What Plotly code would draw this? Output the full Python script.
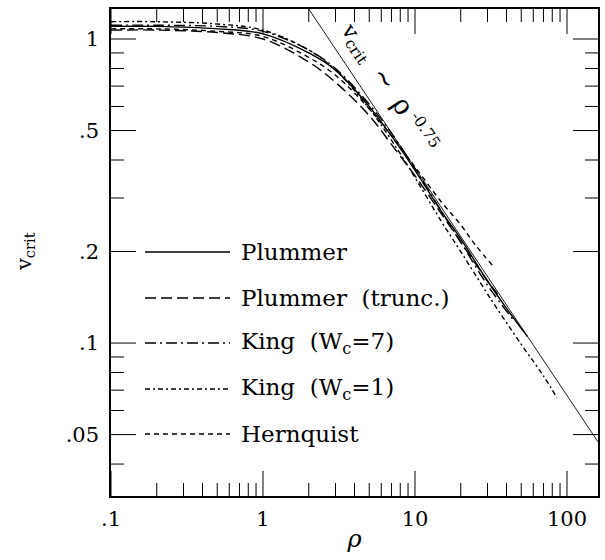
import math
import plotly.graph_objects as go

# ---------------- data ----------------
rho_plummer = [0.1, 0.2, 0.5, 1, 2, 3, 5, 7, 10, 15, 20, 30, 40, 55]
v_plummer = [1.10, 1.10, 1.08, 1.04, 0.90, 0.79, 0.60, 0.48, 0.37, 0.27, 0.22, 0.16, 0.13, 0.105]

rho_trunc = [0.1, 0.2, 0.5, 1, 2, 3, 5, 7, 10, 15, 20, 30, 35]
v_trunc = [1.07, 1.07, 1.05, 1.00, 0.84, 0.72, 0.56, 0.45, 0.355, 0.265, 0.215, 0.16, 0.145]

rho_king7 = [0.1, 0.2, 0.5, 1, 2, 3, 5, 7, 10, 15, 20, 30, 45]
v_king7 = [1.11, 1.11, 1.10, 1.06, 0.92, 0.80, 0.61, 0.49, 0.375, 0.27, 0.215, 0.155, 0.118]

rho_king1 = [0.1, 0.2, 0.5, 1, 2, 3, 5, 7, 10, 15, 20, 30, 50, 70, 86]
v_king1 = [1.14, 1.14, 1.12, 1.07, 0.92, 0.79, 0.59, 0.465, 0.35, 0.25, 0.20, 0.145, 0.099, 0.078, 0.066]

rho_hern = [0.1, 0.2, 0.5, 1, 2, 3, 5, 7, 10, 15, 20, 25, 33]
v_hern = [1.08, 1.08, 1.06, 1.02, 0.87, 0.76, 0.59, 0.48, 0.38, 0.29, 0.245, 0.21, 0.178]

# power-law reference line v_crit ~ rho^-0.75 (end points)
rho_pl = [2.0, 160.0]
v_pl = [1.255, 0.0473]

series_names = ["Plummer", "Plummer  (trunc.)", "King  (W<sub>c</sub>=7)",
                "King  (W<sub>c</sub>=1)", "Hernquist"]

x_tickvals = [0.1, 1, 10, 100]
x_ticktext = [".1", "1", "10", "100"]
x_minor = [0.2, 0.3, 0.4, 0.5, 0.6, 0.7, 0.8, 0.9,
           2, 3, 4, 5, 6, 7, 8, 9, 20, 30, 40, 50, 60, 70, 80, 90]
y_tickvals = [0.05, 0.1, 0.2, 0.5, 1]
y_ticktext = [".05", ".1", ".2", ".5", "1"]
y_minor = [0.04, 0.06, 0.07, 0.08, 0.09, 0.3, 0.4, 0.6, 0.7, 0.8, 0.9]

# ---------------- styles ----------------
dashes = ["solid", "11px,5px", "11px,4px,2px,4px", "5px,3px,2px,3px", "5px,4px"]
FONT = "DejaVu Serif"
XR = [-1, 2.204]
YR = [-1.503, 0.0987]

fig = go.Figure()
all_rho = [rho_plummer, rho_trunc, rho_king7, rho_king1, rho_hern]
all_v = [v_plummer, v_trunc, v_king7, v_king1, v_hern]
for name, r, v, d in zip(series_names, all_rho, all_v, dashes):
    fig.add_trace(go.Scatter(x=r, y=v, mode="lines", name=name,
                             line=dict(color="black", width=1.4, dash=d, shape="spline"),
                             showlegend=False))

fig.add_trace(go.Scatter(x=rho_pl, y=v_pl, mode="lines", name="power law",
                         line=dict(color="black", width=0.9), showlegend=False))

# ---------------- geometry ----------------
L, R, T, B = 111, 598, 9, 496
W, H = R - L, B - T
MAJ, MIN = 25, 13


def xfrac(v):
    return (math.log10(v) - XR[0]) / (XR[1] - XR[0])


def yfrac(v):
    return (math.log10(v) - YR[0]) / (YR[1] - YR[0])


tick_line = dict(color="black", width=1)
# inside ticks on all four sides (mirrored), drawn from the tick value arrays
for vals, ln in ((x_tickvals, MAJ), (x_minor, MIN)):
    for v in vals:
        f = xfrac(v)
        if 0 <= f <= 1:
            fig.add_shape(type="line", xref="paper", yref="paper", x0=f, x1=f,
                          y0=0, y1=ln / H, line=tick_line, opacity=1)
            fig.add_shape(type="line", xref="paper", yref="paper", x0=f, x1=f,
                          y0=1, y1=1 - ln / H, line=tick_line, opacity=1)
for vals, ln in ((y_tickvals, MAJ), (y_minor, MIN)):
    for v in vals:
        f = yfrac(v)
        if 0 <= f <= 1:
            fig.add_shape(type="line", xref="paper", yref="paper", y0=f, y1=f,
                          x0=0, x1=ln / W, line=tick_line, opacity=1)
            fig.add_shape(type="line", xref="paper", yref="paper", y0=f, y1=f,
                          x0=1, x1=1 - ln / W, line=tick_line, opacity=1)

# ---------------- hand drawn legend ----------------
rows = [252, 298, 343, 389, 434]
for name, d, py in zip(series_names, dashes, rows):
    yp = (B - py) / H
    fig.add_shape(type="line", xref="paper", yref="paper", opacity=1,
                  x0=(145 - L) / W, x1=(230 - L) / W, y0=yp, y1=yp,
                  line=dict(color="black", width=1.4, dash=d))
    fig.add_annotation(xref="paper", yref="paper", x=(239 - L) / W, y=yp,
                       text=name, showarrow=False, xanchor="left", yanchor="middle",
                       font=dict(family=FONT, size=23, color="black"))

# power law label
fig.add_annotation(x=0.835, y=-0.16, xref="x", yref="y",
                   text="v<sub>crit</sub>  <span style='font-size:26px'>~</span>  "
                        "<span style='font-size:27px'>ρ</span><sup> -0.75</sup>",
                   showarrow=False, textangle=56,
                   font=dict(family=FONT, size=22, color="black"))

# y axis title placed explicitly
fig.add_annotation(xref="paper", yref="paper", x=(25 - L) / W, y=(B - 252) / H,
                   text="v<sub>crit</sub>", showarrow=False, textangle=-90,
                   xanchor="center", yanchor="middle",
                   font=dict(family=FONT, size=21, color="black"))

axis_common = dict(type="log", showline=True, linecolor="black", linewidth=1.5,
                   mirror=True, ticks="outside", tickcolor="rgba(0,0,0,0)",
                   tickwidth=1, showgrid=False, zeroline=False,
                   tickfont=dict(family=FONT, size=21, color="black"))

fig.update_layout(
    template="none",
    width=605, height=560, autosize=False,
    margin=dict(l=L, r=605 - R, t=T, b=560 - B),
    plot_bgcolor="white", paper_bgcolor="white",
    font=dict(family=FONT, color="black"),
    xaxis=dict(**axis_common, range=XR, tickmode="array", tickvals=x_tickvals,
               ticktext=x_ticktext, ticklen=3,
               title=dict(text="<i>ρ</i>", font=dict(family=FONT, size=24, color="black"),
                          standoff=0)),
    yaxis=dict(**axis_common, range=YR, tickmode="array", tickvals=y_tickvals,
               ticktext=y_ticktext, ticklen=6),
)

fig.write_html("out.html")
